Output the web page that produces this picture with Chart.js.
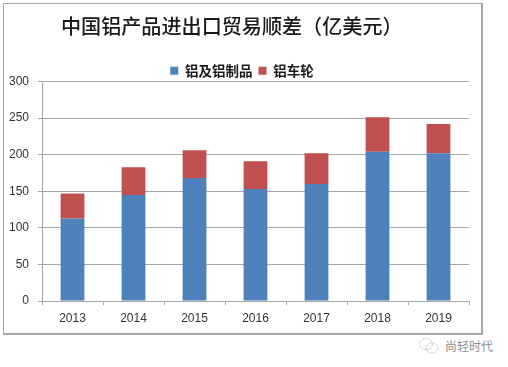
<!DOCTYPE html>
<html lang="zh">
<head>
<meta charset="utf-8">
<title>中国铝产品进出口贸易顺差</title>
<script src="https://cdn.jsdelivr.net/npm/chart.js@4/dist/chart.umd.min.js"></script>
<style>
  html, body { margin: 0; padding: 0; background: #fff; }
  body { position: relative; width: 508px; height: 367px; overflow: hidden; }
  #frame { position: absolute; left: 3px; top: 3px; width: 477px; height: 329px; border: 1px solid #a6a6a6; border-bottom-width: 2px; border-right-width: 2px; box-sizing: content-box; }
  #plotGraph { position: absolute; left: 0; top: 0; }
  #mainTitle { position: absolute; left: 61px; top: 12px; margin: 0; font: 500 20.1px "Noto Sans CJK SC", sans-serif; line-height: 28px; color: #1a1a1a; white-space: nowrap; }
  #mark { position: absolute; left: 445px; top: 337px; font: 400 12px "Noto Sans CJK SC", sans-serif; line-height: 18px; color: #8c8c8c; white-space: nowrap; }
  #markIcon { position: absolute; left: 418px; top: 336px; }
</style>
</head>
<body>
<div id="frame"><canvas id="plotGraph" width="477" height="329"></canvas></div>
<h1 id="mainTitle">中国铝产品进出口贸易顺差（亿美元）</h1>
<svg id="markIcon" width="22" height="20" fill="none" stroke="#c4c4c4" stroke-width="1" stroke-dasharray="2 1">
  <ellipse cx="8" cy="8" rx="6.5" ry="5.5"></ellipse>
  <ellipse cx="14" cy="12" rx="6" ry="5"></ellipse>
</svg>
<div id="mark">尚轻时代</div>
<script>
let years = ["2013", "2014", "2015", "2016", "2017", "2018", "2019"]
let aluminumValues = [113, 145, 168, 153, 160, 204, 202]
let wheelValues = [34, 38, 38, 38, 42, 47, 40]
let seriesNames = ["铝及铝制品", "铝车轮"]

let tickFont = { family: "'Liberation Sans', sans-serif", size: 12 }

let mainData = {
  labels: years,
  datasets: [
    { label: seriesNames[0], data: aluminumValues, backgroundColor: "#4f81bd" },
    { label: seriesNames[1], data: wheelValues, backgroundColor: "#c0504d" },
  ],
}

let mainOptions = {
  responsive: false,
  animation: false,
  devicePixelRatio: 1,
  layout: { padding: { top: 48, left: 1, right: 12, bottom: 1.5 } },
  datasets: { bar: { categoryPercentage: 1, barPercentage: 0.39 } },
  plugins: {
    tooltip: { enabled: false },
    title: { display: false },
    legend: {
      position: "top",
      labels: {
        boxWidth: 8,
        boxHeight: 8,
        padding: 6,
        color: "#1a1a1a",
        font: { family: "'Noto Sans CJK SC', sans-serif", size: 13.5, weight: "bold" },
      },
    },
  },
  scales: {
    x: {
      stacked: true,
      offset: true,
      border: { color: "#a6a6a6" },
      grid: { display: true, offset: true, drawOnChartArea: false, color: "#a6a6a6", tickLength: 4 },
      ticks: { color: "#333", font: tickFont, padding: 6, maxRotation: 0 },
    },
    y: {
      stacked: true,
      min: 0,
      max: 300,
      border: { color: "#a6a6a6" },
      grid: { color: "#a6a6a6", tickLength: 4 },
      ticks: { stepSize: 50, color: "#333", font: tickFont, padding: 9 },
      afterFit(scale) {
        scale.width = 37
      },
    },
  },
}

// 凡例を軸に近づけて少し右へずらす
let legendPlacer = {
  id: "legendPlacer",
  afterLayout(chart) {
    chart.legend.left += 5
    chart.legend.right += 5
    chart.legend.top += 6
    chart.legend.bottom += 6
  },
}

new Chart(document.getElementById("plotGraph"), {
  type: "bar",
  data: mainData,
  options: mainOptions,
  plugins: [legendPlacer],
})
</script>
</body>
</html>
